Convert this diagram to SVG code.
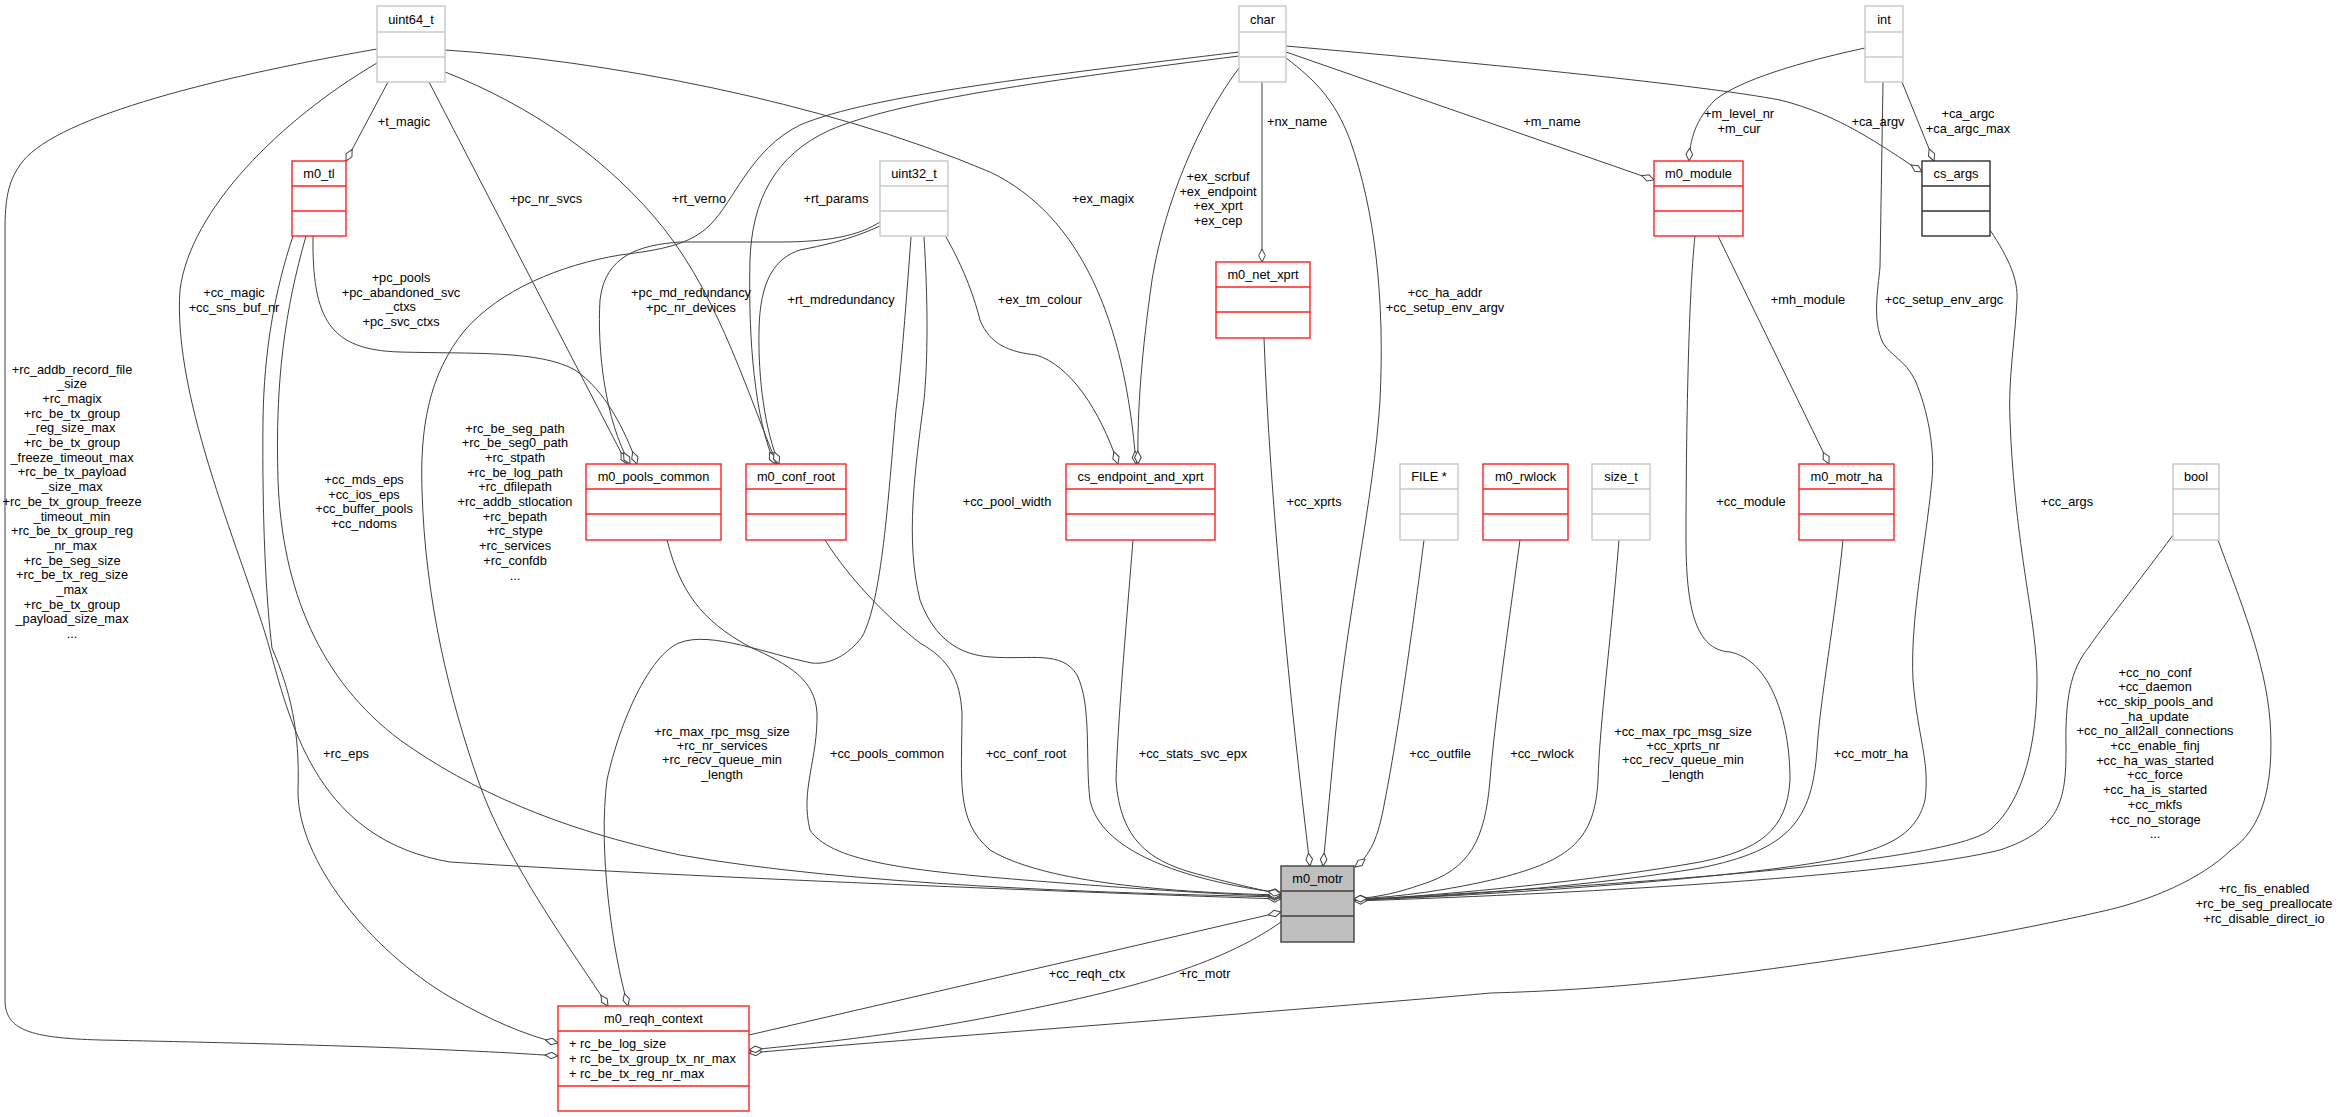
<svg xmlns="http://www.w3.org/2000/svg" width="2339" height="1117" viewBox="0 0 2339 1117">
<style>
text{font-family:"Liberation Sans",Arial,Helvetica,sans-serif;font-size:12.8px;fill:#000}
.node text,.lbl{text-anchor:middle}
.node text.attr{text-anchor:start}
.node rect{fill:#fff;stroke-width:1.4}
.node line{stroke-width:1.4}
.grey rect,.grey line{stroke:#c8c8c8}
.red rect,.red line{stroke:#ff2020}
.blk rect,.blk line{stroke:#303030}
.main rect{fill:#bfbfbf;stroke:#404040}
.main line{stroke:#404040}
.e{fill:none;stroke:#404040;stroke-width:1;marker-end:url(#d)}
</style>
<defs>
<marker id="d" viewBox="0 0 14 8" refX="13.5" refY="4" markerWidth="14" markerHeight="8" markerUnits="userSpaceOnUse" orient="auto"><path d="M0.5,4 L7,0.7 L13.5,4 L7,7.3 Z" fill="#fff" stroke="#404040" stroke-width="1"/></marker>
</defs>
<rect width="2339" height="1117" fill="#fff"/>
<g id="connectors">
<path class="e" d="M388,82 L346,161"/>
<path class="e" d="M429,82 L627,464"/>
<path class="e" d="M445,72 C530,105 610,160 665,230 C720,300 750,400 777,464"/>
<path class="e" d="M445,50 C600,60 820,100 990,172 C1080,215 1125,320 1136,464"/>
<path class="e" d="M377,63 C280,120 190,210 180,290 C172,400 245,560 270,650 C292,730 320,840 450,862 C700,878 1100,893 1281,899"/>
<path class="e" d="M377,49 C200,80 50,120 20,165 C8,182 5,200 5,230 L5,1000 C5,1030 30,1038 100,1040 C250,1043 450,1048 558,1056"/>
<path class="e" d="M313,236 C312,320 330,350 400,352 C470,354 540,350 575,370 C605,390 625,430 637,464"/>
<path class="e" d="M306,236 C285,310 275,380 278,480 C282,590 320,680 400,740 C470,790 560,830 680,855 C850,885 1100,893 1281,897"/>
<path class="e" d="M293,236 C275,290 264,350 263,420 C262,520 266,600 272,648 C290,690 300,730 298,790 C297,860 370,950 450,997 C490,1020 525,1035 558,1043"/>
<path class="e" d="M1239,52 C1050,75 870,95 800,125 C750,150 735,200 710,225 C690,245 660,250 620,255 C560,265 500,290 465,330 C428,375 420,430 422,490 C425,600 450,700 478,780 C505,860 575,955 608,1006"/>
<path class="e" d="M1239,56 C1050,80 900,100 830,130 C775,155 752,200 750,260 C748,340 755,420 775,464"/>
<path class="e" d="M1239,68 C1200,120 1165,200 1152,280 C1142,350 1137,410 1138,464"/>
<path class="e" d="M1262,82 L1262,262"/>
<path class="e" d="M1286,58 C1315,80 1335,100 1350,140 C1375,210 1385,300 1380,400 C1374,500 1345,620 1333,760 L1323,866"/>
<path class="e" d="M1286,52 L1654,180"/>
<path class="e" d="M1286,46 C1500,65 1700,85 1780,100 C1840,115 1880,145 1922,172"/>
<path class="e" d="M880,222 C860,235 830,242 780,242 L680,242 C640,245 605,255 600,300 C597,350 605,420 630,464"/>
<path class="e" d="M880,226 C850,240 820,246 800,250 C775,258 760,280 759,330 C758,380 765,430 779,464"/>
<path class="e" d="M946,237 C965,270 975,300 980,320 C990,345 1010,352 1036,355 C1070,365 1100,410 1118,464"/>
<path class="e" d="M924,237 C928,300 928,360 924,400 C915,470 905,540 920,600 C935,640 960,655 991,657 C1030,660 1062,650 1077,675 C1092,705 1085,760 1090,800 C1100,850 1180,880 1281,893"/>
<path class="e" d="M911,237 C905,320 900,380 896,410 C888,500 882,600 862,637 C848,655 830,665 812,663 C770,655 710,630 679,643 C650,655 620,720 607,780 C598,850 612,950 628,1006"/>
<path class="e" d="M1264,338 C1270,500 1290,700 1310,866"/>
<path class="e" d="M1695,236 C1688,300 1686,450 1686,540 C1686,620 1700,650 1730,652 C1770,660 1790,720 1790,780 C1787,830 1760,850 1700,862 C1600,880 1450,895 1354,900"/>
<path class="e" d="M1718,236 L1829,464"/>
<path class="e" d="M1843,540 C1835,620 1820,700 1817,750 C1812,820 1790,850 1700,868 C1600,885 1450,897 1354,900"/>
<path class="e" d="M1865,48 C1800,62 1740,80 1715,100 C1695,120 1690,140 1689,161"/>
<path class="e" d="M1902,82 L1934,161"/>
<path class="e" d="M1883,82 L1880,267 C1878,290 1872,320 1883,343 C1890,355 1905,360 1915,380 C1928,410 1935,450 1932,480 C1925,550 1910,620 1913,680 C1918,740 1930,760 1925,800 C1915,840 1880,855 1780,868 C1650,885 1450,897 1354,900"/>
<path class="e" d="M1990,230 C2010,260 2018,280 2017,300 C2015,340 2008,380 2010,420 C2015,550 2037,620 2037,680 C2037,740 2025,800 1990,830 C1950,860 1700,880 1354,900"/>
<path class="e" d="M2173,535 C2140,580 2100,630 2089,647 C2070,670 2065,700 2066,750 C2066,800 2060,830 2000,850 C1900,875 1600,893 1354,901"/>
<path class="e" d="M2218,540 C2240,600 2265,660 2270,720 C2275,790 2260,830 2231,850 C2200,880 2150,900 2108,910 C2000,935 1900,950 1854,957 C1700,980 1600,990 1491,993 C1300,1010 900,1040 749,1053"/>
<path class="e" d="M1281,922 C1220,965 1130,990 1000,1015 C900,1035 800,1045 749,1050"/>
<path class="e" d="M749,1035 L1281,912"/>
<path class="e" d="M667,540 C680,590 700,620 750,647 C790,665 815,680 817,713 C818,760 800,790 810,830 C830,860 900,870 1024,880 C1150,890 1230,895 1281,896"/>
<path class="e" d="M825,540 C850,580 890,620 920,643 C950,660 960,680 962,713 C962,780 955,820 990,850 C1040,880 1150,892 1281,895"/>
<path class="e" d="M1133,540 C1125,640 1118,720 1116,780 C1120,840 1150,860 1190,872 C1230,883 1260,890 1281,894"/>
<path class="e" d="M1424,540 C1410,650 1395,750 1385,800 C1378,840 1370,855 1355,867"/>
<path class="e" d="M1520,540 C1505,650 1495,720 1490,780 C1485,840 1470,870 1420,885 C1400,892 1380,897 1354,899"/>
<path class="e" d="M1619,540 C1610,650 1600,720 1598,780 C1595,840 1570,860 1500,878 C1450,890 1400,897 1354,899"/>
<g id="edge-labels">
<text class="lbl" x="404" y="125.5">+t_magic</text>
<text class="lbl"><tspan x="234" y="296.5">+cc_magic</tspan><tspan x="234" y="311.5">+cc_sns_buf_nr</tspan></text>
<text class="lbl"><tspan x="401" y="281.5">+pc_pools</tspan><tspan x="401" y="296.5">+pc_abandoned_svc</tspan><tspan x="401" y="311">_ctxs</tspan><tspan x="401" y="325.5">+pc_svc_ctxs</tspan></text>
<text class="lbl" x="546" y="202.5">+pc_nr_svcs</text>
<text class="lbl" x="699" y="202.5">+rt_verno</text>
<text class="lbl" x="836" y="202.5">+rt_params</text>
<text class="lbl" x="1103" y="202.5">+ex_magix</text>
<text class="lbl"><tspan x="691" y="296.5">+pc_md_redundancy</tspan><tspan x="691" y="311.5">+pc_nr_devices</tspan></text>
<text class="lbl" x="841" y="303.5">+rt_mdredundancy</text>
<text class="lbl" x="1040" y="303.5">+ex_tm_colour</text>
<text class="lbl" x="1297" y="125.5">+nx_name</text>
<text class="lbl"><tspan x="1218" y="180.5">+ex_scrbuf</tspan><tspan x="1218" y="195.5">+ex_endpoint</tspan><tspan x="1218" y="209.5">+ex_xprt</tspan><tspan x="1218" y="224.5">+ex_cep</tspan></text>
<text class="lbl" x="1552" y="125.5">+m_name</text>
<text class="lbl"><tspan x="1739" y="117.5">+m_level_nr</tspan><tspan x="1739" y="132.5">+m_cur</tspan></text>
<text class="lbl"><tspan x="1445" y="296.5">+cc_ha_addr</tspan><tspan x="1445" y="311.5">+cc_setup_env_argv</tspan></text>
<text class="lbl" x="1808" y="303.5">+mh_module</text>
<text class="lbl" x="1878" y="125.5">+ca_argv</text>
<text class="lbl"><tspan x="1968" y="117.5">+ca_argc</tspan><tspan x="1968" y="132.5">+ca_argc_max</tspan></text>
<text class="lbl" x="1944" y="303.5">+cc_setup_env_argc</text>
<text class="lbl"><tspan x="72" y="373.5">+rc_addb_record_file</tspan><tspan x="72" y="388.2">_size</tspan><tspan x="72" y="402.9">+rc_magix</tspan><tspan x="72" y="417.6">+rc_be_tx_group</tspan><tspan x="72" y="432.3">_reg_size_max</tspan><tspan x="72" y="447">+rc_be_tx_group</tspan><tspan x="72" y="461.7">_freeze_timeout_max</tspan><tspan x="72" y="476.4">+rc_be_tx_payload</tspan><tspan x="72" y="491.1">_size_max</tspan><tspan x="72" y="505.8">+rc_be_tx_group_freeze</tspan><tspan x="72" y="520.5">_timeout_min</tspan><tspan x="72" y="535.2">+rc_be_tx_group_reg</tspan><tspan x="72" y="549.9">_nr_max</tspan><tspan x="72" y="564.6">+rc_be_seg_size</tspan><tspan x="72" y="579.3">+rc_be_tx_reg_size</tspan><tspan x="72" y="594">_max</tspan><tspan x="72" y="608.7">+rc_be_tx_group</tspan><tspan x="72" y="623.4">_payload_size_max</tspan><tspan x="72" y="638.1">...</tspan></text>
<text class="lbl"><tspan x="364" y="483.5">+cc_mds_eps</tspan><tspan x="364" y="498.5">+cc_ios_eps</tspan><tspan x="364" y="513">+cc_buffer_pools</tspan><tspan x="364" y="527.5">+cc_ndoms</tspan></text>
<text class="lbl"><tspan x="515" y="432.5">+rc_be_seg_path</tspan><tspan x="515" y="447.2">+rc_be_seg0_path</tspan><tspan x="515" y="461.9">+rc_stpath</tspan><tspan x="515" y="476.6">+rc_be_log_path</tspan><tspan x="515" y="491.3">+rc_dfilepath</tspan><tspan x="515" y="506">+rc_addb_stlocation</tspan><tspan x="515" y="520.7">+rc_bepath</tspan><tspan x="515" y="535.4">+rc_stype</tspan><tspan x="515" y="550.1">+rc_services</tspan><tspan x="515" y="564.8">+rc_confdb</tspan><tspan x="515" y="579.5">...</tspan></text>
<text class="lbl" x="1007" y="505.5">+cc_pool_width</text>
<text class="lbl" x="1314" y="505.5">+cc_xprts</text>
<text class="lbl" x="1751" y="505.5">+cc_module</text>
<text class="lbl" x="2067" y="505.5">+cc_args</text>
<text class="lbl"><tspan x="722" y="735.5">+rc_max_rpc_msg_size</tspan><tspan x="722" y="749.5">+rc_nr_services</tspan><tspan x="722" y="763.5">+rc_recv_queue_min</tspan><tspan x="722" y="778.5">_length</tspan></text>
<text class="lbl" x="887" y="757.5">+cc_pools_common</text>
<text class="lbl" x="1026" y="757.5">+cc_conf_root</text>
<text class="lbl" x="1193" y="757.5">+cc_stats_svc_epx</text>
<text class="lbl" x="1440" y="757.5">+cc_outfile</text>
<text class="lbl" x="1542" y="757.5">+cc_rwlock</text>
<text class="lbl"><tspan x="1683" y="735.5">+cc_max_rpc_msg_size</tspan><tspan x="1683" y="749.5">+cc_xprts_nr</tspan><tspan x="1683" y="763.5">+cc_recv_queue_min</tspan><tspan x="1683" y="778.5">_length</tspan></text>
<text class="lbl" x="1871" y="757.5">+cc_motr_ha</text>
<text class="lbl"><tspan x="2155" y="676.5">+cc_no_conf</tspan><tspan x="2155" y="691.2">+cc_daemon</tspan><tspan x="2155" y="705.9">+cc_skip_pools_and</tspan><tspan x="2155" y="720.6">_ha_update</tspan><tspan x="2155" y="735.3">+cc_no_all2all_connections</tspan><tspan x="2155" y="750">+cc_enable_finj</tspan><tspan x="2155" y="764.7">+cc_ha_was_started</tspan><tspan x="2155" y="779.4">+cc_force</tspan><tspan x="2155" y="794.1">+cc_ha_is_started</tspan><tspan x="2155" y="808.8">+cc_mkfs</tspan><tspan x="2155" y="823.5">+cc_no_storage</tspan><tspan x="2155" y="838.2">...</tspan></text>
<text class="lbl" x="346" y="757.5">+rc_eps</text>
<text class="lbl"><tspan x="2264" y="892.5">+rc_fis_enabled</tspan><tspan x="2264" y="907.5">+rc_be_seg_preallocate</tspan><tspan x="2264" y="922.5">+rc_disable_direct_io</tspan></text>
<text class="lbl" x="1087" y="977.5">+cc_reqh_ctx</text>
<text class="lbl" x="1205" y="977.5">+rc_motr</text>
</g>
</g>
<g id="node-uint64_t" class="node grey"><rect x="377" y="6" width="68" height="76"/><line x1="377" y1="32" x2="445" y2="32"/><line x1="377" y1="57" x2="445" y2="57"/><text x="411" y="23.5">uint64_t</text></g>
<g id="node-char" class="node grey"><rect x="1239" y="6" width="47" height="76"/><line x1="1239" y1="32" x2="1286" y2="32"/><line x1="1239" y1="57" x2="1286" y2="57"/><text x="1262.5" y="23.5">char</text></g>
<g id="node-int" class="node grey"><rect x="1865" y="6" width="38" height="76"/><line x1="1865" y1="32" x2="1903" y2="32"/><line x1="1865" y1="57" x2="1903" y2="57"/><text x="1884" y="23.5">int</text></g>
<g id="node-m0_tl" class="node red"><rect x="292" y="161" width="54" height="75"/><line x1="292" y1="186" x2="346" y2="186"/><line x1="292" y1="211" x2="346" y2="211"/><text x="319" y="178">m0_tl</text></g>
<g id="node-uint32_t" class="node grey"><rect x="880" y="161" width="68" height="75"/><line x1="880" y1="186" x2="948" y2="186"/><line x1="880" y1="211" x2="948" y2="211"/><text x="914" y="178">uint32_t</text></g>
<g id="node-m0_module" class="node red"><rect x="1654" y="161" width="89" height="75"/><line x1="1654" y1="186" x2="1743" y2="186"/><line x1="1654" y1="211" x2="1743" y2="211"/><text x="1698.5" y="178">m0_module</text></g>
<g id="node-cs_args" class="node blk"><rect x="1922" y="161" width="68" height="75"/><line x1="1922" y1="186" x2="1990" y2="186"/><line x1="1922" y1="211" x2="1990" y2="211"/><text x="1956" y="178">cs_args</text></g>
<g id="node-m0_net_xprt" class="node red"><rect x="1216" y="262" width="94" height="76"/><line x1="1216" y1="287" x2="1310" y2="287"/><line x1="1216" y1="312" x2="1310" y2="312"/><text x="1263" y="279">m0_net_xprt</text></g>
<g id="node-m0_pools_common" class="node red"><rect x="586" y="464" width="135" height="76"/><line x1="586" y1="489" x2="721" y2="489"/><line x1="586" y1="514" x2="721" y2="514"/><text x="653.5" y="481">m0_pools_common</text></g>
<g id="node-m0_conf_root" class="node red"><rect x="746" y="464" width="100" height="76"/><line x1="746" y1="489" x2="846" y2="489"/><line x1="746" y1="514" x2="846" y2="514"/><text x="796" y="481">m0_conf_root</text></g>
<g id="node-cs_endpoint_and_xprt" class="node red"><rect x="1066" y="464" width="149" height="76"/><line x1="1066" y1="489" x2="1215" y2="489"/><line x1="1066" y1="514" x2="1215" y2="514"/><text x="1140.5" y="481">cs_endpoint_and_xprt</text></g>
<g id="node-FILE" class="node grey"><rect x="1400" y="464" width="58" height="76"/><line x1="1400" y1="489" x2="1458" y2="489"/><line x1="1400" y1="514" x2="1458" y2="514"/><text x="1429" y="481">FILE *</text></g>
<g id="node-m0_rwlock" class="node red"><rect x="1483" y="464" width="85" height="76"/><line x1="1483" y1="489" x2="1568" y2="489"/><line x1="1483" y1="514" x2="1568" y2="514"/><text x="1525.5" y="481">m0_rwlock</text></g>
<g id="node-size_t" class="node grey"><rect x="1592" y="464" width="58" height="76"/><line x1="1592" y1="489" x2="1650" y2="489"/><line x1="1592" y1="514" x2="1650" y2="514"/><text x="1621" y="481">size_t</text></g>
<g id="node-m0_motr_ha" class="node red"><rect x="1799" y="464" width="95" height="76"/><line x1="1799" y1="489" x2="1894" y2="489"/><line x1="1799" y1="514" x2="1894" y2="514"/><text x="1846.5" y="481">m0_motr_ha</text></g>
<g id="node-bool" class="node grey"><rect x="2173" y="464" width="46" height="76"/><line x1="2173" y1="489" x2="2219" y2="489"/><line x1="2173" y1="514" x2="2219" y2="514"/><text x="2196" y="481">bool</text></g>
<g id="node-m0_motr" class="node main"><rect x="1281" y="866" width="73" height="76"/><line x1="1281" y1="891" x2="1354" y2="891"/><line x1="1281" y1="916" x2="1354" y2="916"/><text x="1317.5" y="883">m0_motr</text></g>
<g id="node-m0_reqh_context" class="node red"><rect x="558" y="1006" width="191" height="105"/><line x1="558" y1="1031" x2="749" y2="1031"/><line x1="558" y1="1086" x2="749" y2="1086"/><text x="653.5" y="1023">m0_reqh_context</text><text class="attr" x="569" y="1047.5">+ rc_be_log_size</text><text class="attr" x="569" y="1062.5">+ rc_be_tx_group_tx_nr_max</text><text class="attr" x="569" y="1077.5">+ rc_be_tx_reg_nr_max</text></g>
</svg>
